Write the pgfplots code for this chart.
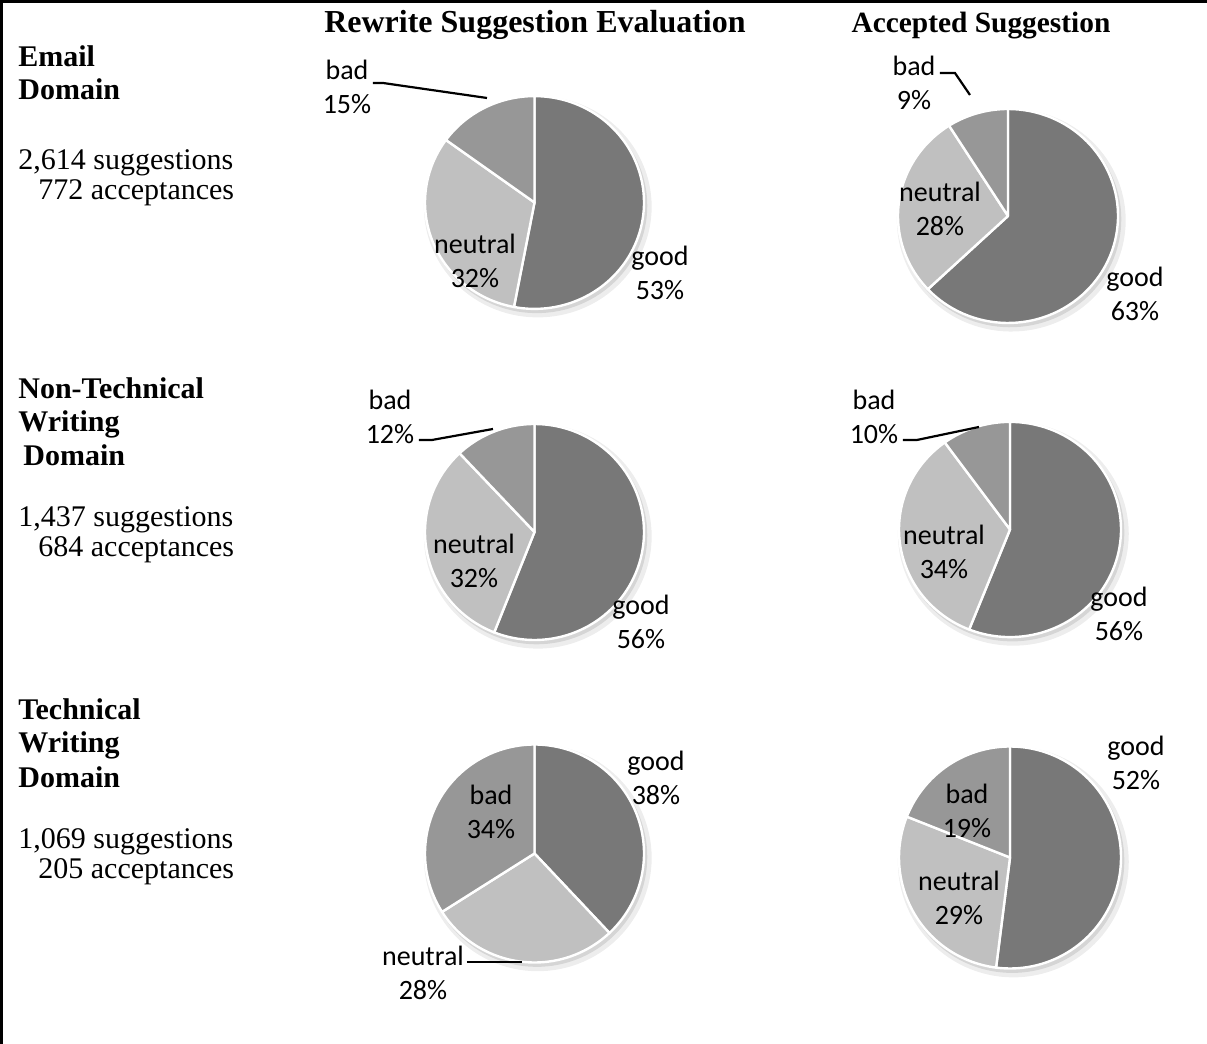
\documentclass[border=0pt]{standalone}
\usepackage{pgfplots}
\pgfplotsset{compat=1.18}
\usepackage{fontspec}
\setmainfont{Liberation Serif}
\newfontfamily\carlito{Carlito}
\definecolor{goodc}{HTML}{787878}
\definecolor{neutc}{HTML}{C0C0C0}
\definecolor{badc}{HTML}{979797}

% one pie: #1 x-centre (bp), #2 y-centre (bp), #3 x radius (bp), #4 y radius (bp), #5 good, #6 neutral, #7 bad (percent)
\newcommand\pie[7]{%
  \pgfmathsetmacro\aA{90-3.6*#5}%
  \pgfmathsetmacro\aB{90-3.6*(#5+#6)}%
  \begin{axis}[at={(#1bp,#2bp)}, anchor=center, x=#3bp, y=#4bp,
    hide axis, xmin=-1.2, xmax=1.2, ymin=-1.2, ymax=1.2, clip=false]
    \addplot[fill=black, fill opacity=0.07, draw=none, domain=0:360, samples=120] ({0.03+1.04*cos(x)},{-0.04+1.04*sin(x)}) -- cycle;
    \addplot[fill=black, fill opacity=0.10, draw=none, domain=0:360, samples=120] ({0.02+1.01*cos(x)},{-0.03+1.01*sin(x)}) -- cycle;
    \addplot[fill=goodc, draw=white, line width=1.2bp, line join=round, domain=\aA:90, samples=80] ({cos(x)},{sin(x)}) -- (axis cs:0,0) -- cycle;
    \addplot[fill=neutc, draw=white, line width=1.2bp, line join=round, domain=\aB:\aA, samples=80] ({cos(x)},{sin(x)}) -- (axis cs:0,0) -- cycle;
    \addplot[fill=badc, draw=white, line width=1.2bp, line join=round, domain=-270:\aB, samples=80] ({cos(x)},{sin(x)}) -- (axis cs:0,0) -- cycle;
  \end{axis}}

\begin{document}
\begin{tikzpicture}
\path[use as bounding box] (0,0) rectangle (603.5bp,522bp);
\draw[line width=1.5bp] (0.9bp,0) -- (0.9bp,521.1bp) -- (603.5bp,521.1bp);

% Email domain
\pie{267.25}{420.75}{54.75}{53.2}{53}{32}{15}
\pie{504}{414}{55}{53.5}{63}{28}{9}
% Non-technical writing domain
\pie{267.25}{256}{54.75}{54}{56}{32}{12}
\pie{505}{257.25}{55.5}{53.8}{56}{34}{10}
% Technical writing domain
\pie{267.25}{95.25}{54.75}{54.5}{38}{28}{34}
\pie{505}{93.25}{55.5}{55.5}{52}{29}{19}

\begin{scope}[x=0.5bp, y=-0.5bp, shift={(0,522bp)}]
  \tikzset{hd/.style={font=\fontsize{15bp}{16.5bp}\selectfont\bfseries, inner sep=0pt},
           tx/.style={font=\fontsize{15bp}{15bp}\selectfont, inner sep=0pt, anchor=base west},
           lb/.style={font=\carlito\fontsize{14bp}{17bp}\selectfont, align=center, inner sep=0pt}}
  \node[font=\fontsize{16bp}{17bp}\selectfont\bfseries, inner sep=0pt, anchor=base] at (535,33) {Rewrite Suggestion Evaluation};
  \node[font=\fontsize{14.7bp}{17bp}\selectfont\bfseries, inner sep=0pt, anchor=base] at (981,33) {Accepted Suggestion};

  \node[hd, anchor=base west] at (18,67) {Email};
  \node[hd, anchor=base west] at (18,100) {Domain};
  \node[tx] at (18,170) {2,614 suggestions};
  \node[tx] at (38,200) {772 acceptances};

  \node[hd, anchor=base west] at (18,399) {Non-Technical};
  \node[hd, anchor=base west] at (18,432) {Writing};
  \node[hd, anchor=base west] at (23,466) {Domain};
  \node[tx] at (18,527) {1,437 suggestions};
  \node[tx] at (38,557) {684 acceptances};

  \node[hd, anchor=base west] at (18,720) {Technical};
  \node[hd, anchor=base west] at (18,753) {Writing};
  \node[hd, anchor=base west] at (18,788) {Domain};
  \node[tx] at (18,849) {1,069 suggestions};
  \node[tx] at (38,879) {205 acceptances};

  % data labels
  \node[lb] at (347,87) {bad\\15\%};
  \node[lb] at (475,261) {neutral\\32\%};
  \node[lb] at (660,273) {good\\53\%};
  \draw[line width=1.1bp] (373,83) -- (383,83) -- (487,98);

  \node[lb] at (914,83) {bad\\9\%};
  \node[lb] at (940,209) {neutral\\28\%};
  \node[lb] at (1135,294) {good\\63\%};
  \draw[line width=1.1bp] (940,73) -- (955,73) -- (970,95);

  \node[lb] at (390,417) {bad\\12\%};
  \node[lb] at (474,561) {neutral\\32\%};
  \node[lb] at (641,622) {good\\56\%};
  \draw[line width=1.1bp] (419,440) -- (432,440) -- (493,429);

  \node[lb] at (874,417) {bad\\10\%};
  \node[lb] at (944,552) {neutral\\34\%};
  \node[lb] at (1119,614) {good\\56\%};
  \draw[line width=1.1bp] (903,440) -- (917,440) -- (979,427);

  \node[lb] at (656,778) {good\\38\%};
  \node[lb] at (491,812) {bad\\34\%};
  \node[lb] at (423,973) {neutral\\28\%};
  \draw[line width=1.1bp] (467,962) -- (522,962);

  \node[lb] at (1136,763) {good\\52\%};
  \node[lb] at (967,811) {bad\\19\%};
  \node[lb] at (959,898) {neutral\\29\%};
\end{scope}
\end{tikzpicture}
\end{document}
